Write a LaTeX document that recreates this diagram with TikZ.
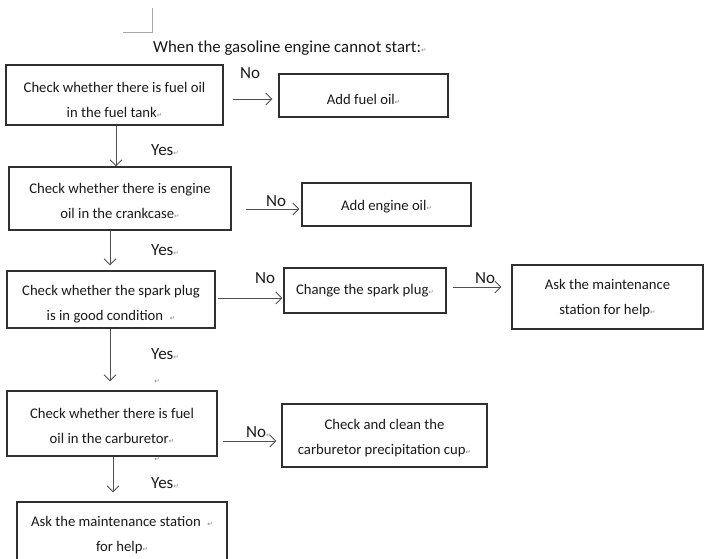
\documentclass[tikz,border=0pt]{standalone}
\usepackage{fontspec}
\setmainfont{Carlito}
\newfontfamily\retfont{DejaVu Sans}
\usetikzlibrary{arrows.meta}
\definecolor{boxline}{HTML}{303030}
\definecolor{arrline}{HTML}{505050}
\definecolor{txt}{HTML}{1A1A1A}
\definecolor{retgray}{HTML}{8A8A8A}
\definecolor{markgray}{HTML}{A8A8A8}
\newcommand\retmark{{\retfont\fontsize{6.5}{6.5}\selectfont\color{retgray}↵}}
\tikzset{
  box/.style={draw=boxline, line width=1.2pt, rectangle, inner sep=0pt},
  bt/.style={align=center, inner sep=0pt, text=txt, font=\fontsize{14.7}{25}\selectfont},
  lab/.style={text=txt, font=\fontsize{17}{17}\selectfont, inner sep=0pt},
  arr/.style={draw=arrline, line width=0.9pt, -{Straight Barb[length=6pt,width=12pt]}},
}
\begin{document}
\begin{tikzpicture}[x=1pt,y=-1pt]
\useasboundingbox (0,0) rectangle (705,558);
\clip (0,0) rectangle (705,558);
\fill[white] (0,0) rectangle (705,558);
% page corner mark
\draw[markgray, line width=0.8pt] (123,32) -- (152,32) -- (152,8);
% title
\node[lab, anchor=west, font=\fontsize{16.8}{16.8}\selectfont] (title) at (153,48) {When the gasoline engine cannot start:\retmark};
% boxes
\node[box, minimum width=217pt, minimum height=60pt,
  label={[bt,yshift=-4.5pt]center:{Check whether there is fuel oil\\ in the fuel tank\retmark}}] (b1) at (114.5,95) {};
\node[box, minimum width=169pt, minimum height=43pt,
  label={[bt,yshift=-3.5pt]center:{Add fuel oil\retmark}}] (fuel) at (363.5,95.5) {};
\node[box, minimum width=222pt, minimum height=63pt,
  label={[bt,yshift=-2.5pt]center:{Check whether there is engine\\ oil in the crankcase\retmark}}] (b2) at (120,198.5) {};
\node[box, minimum width=169pt, minimum height=43pt,
  label={[bt,yshift=-2.5pt]center:{Add engine oil\retmark}}] (eng) at (386.5,204.5) {};
\node[box, minimum width=208pt, minimum height=57pt,
  label={[bt,yshift=-5pt]center:{Check whether the spark plug\\ is in good condition \ \retmark}}] (b3) at (111,299.5) {};
\node[box, minimum width=162pt, minimum height=45pt,
  label={[bt,yshift=-0.5pt]center:{Change the spark plug\retmark}}] (spark) at (365,290.5) {};
\node[box, minimum width=191pt, minimum height=64pt,
  label={[bt,yshift=-1.5pt]center:{Ask the maintenance\\ station for help\retmark}}] (help1) at (607.5,297) {};
\node[box, minimum width=210pt, minimum height=65pt,
  label={[bt,yshift=-2pt]center:{Check whether there is fuel\\ oil in the carburetor\retmark}}] (b4) at (112,423.5) {};
\node[box, minimum width=205pt, minimum height=63pt,
  label={[bt,yshift=-3pt]center:{Check and clean the\\ carburetor precipitation cup\retmark}}] (carb) at (384.5,435.5) {};
\node[box, minimum width=210pt, minimum height=66pt,
  label={[bt]center:{Ask the maintenance station \ \retmark\\ for help\retmark}}] (help2) at (122,535) {};
% vertical arrows (Yes)
\draw[arr] (b1.south -| 116,0) -- (b2.north -| 116,0);
\draw[arr, shorten >=5pt] (b2.south -| 110,0) -- (b3.north -| 110,0);
\draw[arr, shorten >=9pt] (b3.south -| 110,0) -- (b4.north -| 110,0);
\draw[arr, shorten >=9pt] (b4.south -| 113,0) -- (help2.north -| 113,0);
% horizontal arrows (No)
\draw[arr, shorten <=9pt, shorten >=6pt] (b1.east |- 0,99) -- (fuel.west |- 0,99);
\draw[arr, shorten <=14pt, shorten >=2pt] (b2.east |- 0,209) -- (eng.west |- 0,209);
\draw[arr, shorten <=2pt, shorten >=1pt] (b3.east |- 0,298) -- (spark.west |- 0,298);
\draw[arr, shorten <=6pt, shorten >=10pt] (spark.east |- 0,287) -- (help1.west |- 0,287);
\draw[arr, shorten <=5pt, shorten >=5pt] (b4.east |- 0,441) -- (carb.west |- 0,441);
% labels
\node[lab] (no1) at (250,73) {No};
\node[lab] (no2) at (276,201) {No};
\node[lab] (no3) at (265,278) {No};
\node[lab] (no4) at (485,278) {No};
\node[lab, anchor=west] (no5) at (246,432) {No\retmark};
\node[lab, anchor=west] (yes1) at (151,150) {Yes\retmark};
\node[lab, anchor=west] (yes2) at (151,250) {Yes\retmark};
\node[lab, anchor=west] (yes3) at (151,354) {Yes\retmark};
\node[lab, anchor=west] (yes4) at (151,483) {Yes\retmark};
\node[inner sep=0pt] (r1) at (157,381) {\retmark};
\node[inner sep=0pt] (r2) at (157,459) {\retmark};
\end{tikzpicture}
\end{document}
